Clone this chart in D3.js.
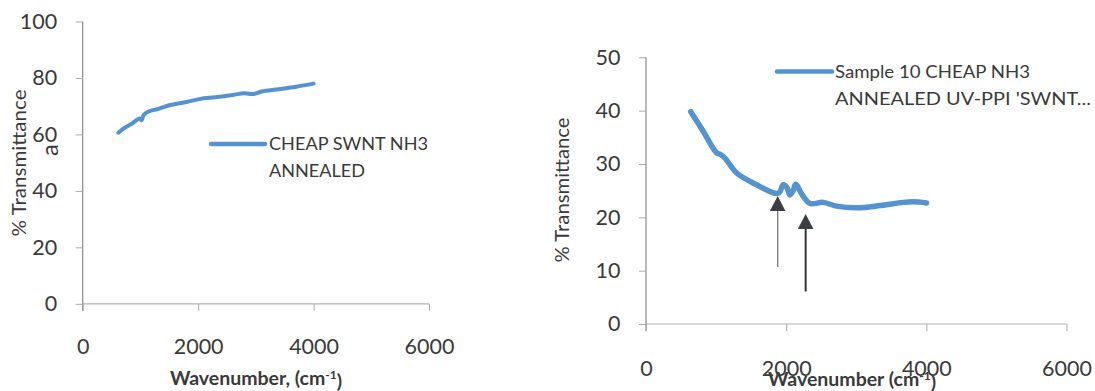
<!DOCTYPE html>
<html><head><meta charset="utf-8">
<script src="https://cdn.jsdelivr.net/npm/d3@7"></script>
<style>
html,body{margin:0;padding:0;background:#fff;}
svg{display:block;font-family:Lato,"Open Sans",sans-serif;}
</style></head>
<body><svg id="c" width="1095" height="391"></svg>
<script>
// ---- data ----
const leftWave = [618, 700, 850, 990, 1020, 1060, 1150, 1300, 1514, 1800, 2035, 2300, 2600, 2800, 2957, 3100, 3400, 3700, 4000];
const leftT    = [60.6, 62.0, 63.8, 65.6, 65.0, 67.0, 68.2, 69.0, 70.4, 71.5, 72.6, 73.2, 74.0, 74.6, 74.3, 75.2, 76.0, 76.9, 78.0];
const rightWave = [638, 818, 960, 1017, 1060, 1127, 1294, 1579, 1840, 1900, 1959, 2010, 2054, 2100, 2135, 2230, 2340, 2530, 2720, 3006, 3338, 3671, 3813, 4004];
const rightT    = [39.8, 36.1, 32.9, 32.0, 31.8, 31.1, 28.3, 26.1, 24.5, 24.6, 26.1, 25.6, 24.2, 25.0, 26.2, 24.2, 22.6, 22.8, 22.1, 21.8, 22.2, 22.8, 22.9, 22.7];
const xTicks = [0, 2000, 4000, 6000];
const leftYTicks = [0, 20, 40, 60, 80, 100];
const rightYTicks = [0, 10, 20, 30, 40, 50];
const leftLegend = ["CHEAP SWNT NH3", "ANNEALED"];
const rightLegend = ["Sample 10 CHEAP NH3", "ANNEALED UV-PPI 'SWNT..."];
const arrowWave = [1879, 2278];
const arrowTip = [24.0, 20.6];
const arrowBase = [10.7, 6.1];

const svg = d3.select("#c");
const blue = "#5592d0";
const txt = "#3a3a3a";

function panel(cfg){
  const g = svg.append("g");
  const x = d3.scaleLinear().domain([0,6000]).range(cfg.xr);
  const y = d3.scaleLinear().domain(cfg.yd).range(cfg.yr);
  g.append("line").attr("x1",x(0)).attr("x2",x(6000)).attr("y1",y(0)).attr("y2",y(0))
    .attr("stroke","#b4b4b4").attr("stroke-width",1.2);
  g.append("line").attr("x1",x(0)).attr("x2",x(0)).attr("y1",y(cfg.yd[1])).attr("y2",y(0)+7)
    .attr("stroke","#8a8a8a").attr("stroke-width",1.2);
  const xa = g.append("g").attr("transform",`translate(0,${y(0)})`)
    .call(d3.axisBottom(x).tickValues(xTicks).tickSize(7).tickSizeOuter(0).tickPadding(cfg.xpad).tickFormat(d3.format("d")));
  const ya = g.append("g").attr("transform",`translate(${x(0)},0)`)
    .call(d3.axisLeft(y).tickValues(cfg.yt).tickSize(7).tickSizeOuter(0).tickPadding(18.5).tickFormat(d3.format("d")));
  [xa,ya].forEach(a=>{
    a.select(".domain").remove();
    a.selectAll(".tick line").attr("stroke","#aaa");
    a.selectAll(".tick text").attr("fill",txt).style("font-size","21.5px").style("font-family","Lato");
  });
  const line = d3.line().x(d=>x(d[0])).y(d=>y(d[1])).curve(d3.curveCatmullRom.alpha(0.5));
  g.append("path").datum(cfg.wave.map((w,i)=>[w,cfg.vals[i]])).attr("d",line)
    .attr("fill","none").attr("stroke",blue).attr("stroke-width",cfg.lw)
    .attr("stroke-linecap","round").attr("stroke-linejoin","round");
  g.append("text").attr("transform",`translate(${cfg.ytx},${cfg.yty}) rotate(-90)`)
    .attr("text-anchor","middle").attr("dy","0.35em").attr("fill",txt)
    .style("font-size","18.5px").attr("textLength",cfg.ytl).attr("lengthAdjust","spacingAndGlyphs")
    .text("% Transmittance");
  const xt = g.append("text").attr("x",cfg.xtx).attr("y",cfg.xty).attr("text-anchor","middle")
    .attr("dy","0.35em").attr("fill",txt).style("font-size","19.5px").style("font-weight","bold");
  xt.append("tspan").text(cfg.xtitle);
  xt.append("tspan").attr("dy","-0.45em").style("font-size","12px").text("-1");
  xt.append("tspan").attr("dy","0.45em").text(")");
  g.append("line").attr("x1",cfg.lg[0]).attr("x2",cfg.lg[1]).attr("y1",cfg.lg[2]).attr("y2",cfg.lg[2])
    .attr("stroke",blue).attr("stroke-width",4.5).attr("stroke-linecap","round");
  cfg.legend.forEach((t,i)=>{
    g.append("text").attr("x",cfg.lg[3]).attr("y",cfg.lg[2]+i*cfg.lg[4]).attr("dy","0.35em")
      .attr("fill",txt).style("font-size","18px")
      .attr("textLength",cfg.lgw[i]).attr("lengthAdjust","spacingAndGlyphs").text(t);
  });
  return {g,x,y};
}

const L = panel({xr:[82.7,429], yd:[0,100], yr:[303.8,21.5], yt:leftYTicks, xpad:28.4,
  wave:leftWave, vals:leftT, lw:4,
  ytx:20, yty:163, ytl:147, xtx:256, xty:378, xtitle:"Wavenumber, (cm",
  lg:[211,265,144,269,27], legend:leftLegend, lgw:[159,96]});
// stray glyph in the original scan
L.g.append("text").attr("transform","translate(50,150) rotate(-90)").attr("text-anchor","middle")
  .attr("dy","0.35em").attr("fill",txt).style("font-size","24px").text("a");

const R = panel({xr:[646,1066.5], yd:[0,50], yr:[324,57.3], yt:rightYTicks, xpad:29.4,
  wave:rightWave, vals:rightT, lw:5.5,
  ytx:563, yty:190, ytl:145, xtx:852, xty:379, xtitle:"Wavenumber (cm",
  lg:[777,832,71.5,835,27], legend:rightLegend, lgw:[195,256]});

arrowWave.forEach((w,i)=>{
  const ax = R.x(w), tip = R.y(arrowTip[i]), base = R.y(arrowBase[i]);
  R.g.append("line").attr("x1",ax).attr("x2",ax).attr("y1",base).attr("y2",tip+12)
    .attr("stroke",i===0?"#777":"#333").attr("stroke-width",i===0?1.3:2);
  R.g.append("path").attr("d",`M${ax},${tip} L${ax-7.8},${tip+15} L${ax+7.8},${tip+15} Z`)
    .attr("fill","#3b3f42");
});
</script></body></html>
